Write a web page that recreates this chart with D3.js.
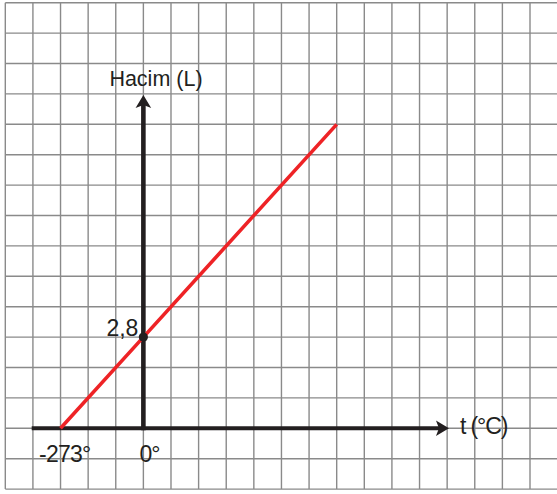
<!DOCTYPE html>
<html>
<head>
<meta charset="utf-8">
<script src="https://cdn.jsdelivr.net/npm/d3@7"></script>
<style>
  html, body { margin: 0; padding: 0; background: #ffffff; }
  svg { display: block; }
  text { font-family: "Liberation Sans", Arial, sans-serif; fill: #231f20; }
</style>
</head>
<body>
<svg id="chart" width="557" height="494"></svg>
<script>
// Charles' law: volume of a gas against temperature in °C
const temperatureC = [-273, 0, 637];
const volumeL = [0, 2.8, 9.33];

// marked point on the volume axis
const markedTemp = [0];
const markedVolume = [2.8];
const markedLabels = ["2,8"];

// temperature tick labels
const tempTicks = [-273, 0];
const tempTickLabels = ["-273°", "0°"];

const xTitle = "t (°C)";
const yTitle = "Hacim (L)";

// graph paper: one column = 91 °C, one row = 2.8/3 L
const colStep = 91;
const rowStep = 2.8 / 3;
const colRange = [-5, 14];
const rowRange = [-2, 14];

const W = 557, H = 494;
const svg = d3.select("#chart");

const x = d3.scaleLinear()
  .domain([colRange[0] * colStep, colRange[1] * colStep])
  .range([5.3, 530]);
const y = d3.scaleLinear()
  .domain([rowRange[0] * rowStep, rowRange[1] * rowStep])
  .range([489.1, 2.7]);

// grid
const gridColor = "#8a8a8a";
const grid = svg.append("g").attr("stroke", gridColor).attr("stroke-width", 1.4);
const cols = d3.range(colRange[0], colRange[1] + 1).map(k => k * colStep);
const rows = d3.range(rowRange[0], rowRange[1] + 1).map(k => k * rowStep);
grid.selectAll("line.v").data(cols).join("line")
  .attr("class", "v")
  .attr("x1", d => x(d)).attr("x2", d => x(d))
  .attr("y1", y.range()[1]).attr("y2", y.range()[0]);
grid.selectAll("line.h").data(rows).join("line")
  .attr("class", "h")
  .attr("x1", x.range()[0]).attr("x2", W)
  .attr("y1", d => y(d)).attr("y2", d => y(d));

// axes
const axisColor = "#231f20";
const xAxisStart = -368, xAxisEnd = 1007;   // °C
const yAxisEnd = 10.23;                       // L
const headLen = 13, headHalf = 7.8, notch = 3;

svg.append("line")
  .attr("x1", x(xAxisStart)).attr("x2", x(xAxisEnd) - headLen + notch + 1)
  .attr("y1", y(0)).attr("y2", y(0))
  .attr("stroke", axisColor).attr("stroke-width", 4);
svg.append("line")
  .attr("x1", x(0)).attr("x2", x(0))
  .attr("y1", y(0) + 2).attr("y2", y(yAxisEnd) + headLen - notch - 1)
  .attr("stroke", axisColor).attr("stroke-width", 4.6);

const headPath = `M0,0 L${-headLen},${-headHalf} L${-headLen + notch},0 L${-headLen},${headHalf} Z`;
svg.append("path")
  .attr("d", headPath)
  .attr("transform", `translate(${x(xAxisEnd)},${y(0)})`)
  .attr("fill", axisColor);
svg.append("path")
  .attr("d", headPath)
  .attr("transform", `translate(${x(0)},${y(yAxisEnd)}) rotate(-90)`)
  .attr("fill", axisColor);

// the straight line
const pts = temperatureC.map((t, i) => [t, volumeL[i]]);
svg.append("path")
  .datum(pts)
  .attr("d", d3.line().x(d => x(d[0])).y(d => y(d[1])))
  .attr("fill", "none")
  .attr("stroke", "#ee2326")
  .attr("stroke-width", 3.6);

// marked point
svg.selectAll("circle.mark").data(markedTemp).join("circle")
  .attr("class", "mark")
  .attr("cx", d => x(d))
  .attr("cy", (d, i) => y(markedVolume[i]))
  .attr("r", 4.6)
  .attr("fill", axisColor);
svg.selectAll("text.mark").data(markedTemp).join("text")
  .attr("class", "mark")
  .attr("x", d => x(d) - 5)
  .attr("y", (d, i) => y(markedVolume[i]) - 1.5)
  .attr("text-anchor", "end")
  .attr("font-size", 23)
  .text((d, i) => markedLabels[i]);

// temperature tick labels: the number part is centred on its tick
tempTicks.forEach((t, i) => {
  const label = svg.append("text")
    .attr("y", 462)
    .attr("font-size", 23)
    .attr("letter-spacing", -0.8)
    .text(tempTickLabels[i]);
  const n = tempTickLabels[i].length - 1;
  const numW = label.node().getSubStringLength(0, n);
  label.attr("x", x(t) + (t === 0 ? 2 : 0) - numW / 2);
});

// axis titles
svg.append("text")
  .attr("x", x(xAxisEnd) + 11)
  .attr("y", y(0) + 6)
  .attr("font-size", 23)
  .attr("letter-spacing", -1.1)
  .text(xTitle);
svg.append("text")
  .attr("x", x(0) - 34)
  .attr("y", 86)
  .attr("font-size", 21.5)
  .text(yTitle);
</script>
</body>
</html>
